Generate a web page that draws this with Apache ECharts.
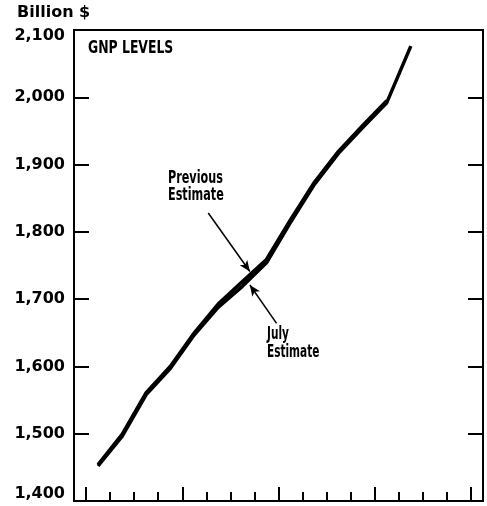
<!DOCTYPE html>
<html>
<head>
<meta charset="utf-8">
<script src="https://cdn.jsdelivr.net/npm/echarts@6/dist/echarts.min.js"></script>
<style>
html, body { margin: 0; padding: 0; background: #fff; }
#chart { width: 487px; height: 506px; }
</style>
</head>
<body>
<div id="chart"></div>
<script>
// bottom axis: one tick per quarter, no labels on the original
var quarters = ['I', 'II', 'III', 'IV', 'I', 'II', 'III', 'IV', 'I', 'II', 'III', 'IV', 'I', 'II', 'III', 'IV', 'I'];
// where each quarterly point sits, counted in quarters from the left edge
var pointPos = [1, 2, 3, 4, 5, 6, 7, 8, 9, 10, 11, 12, 13, 14];
var julyEstimate = [1452, 1496, 1558, 1597, 1647, 1688, 1719, 1754, 1814, 1871, 1917, 1955, 1992, 2076];
var previousEstimate = [1454, 1499, 1561, 1600, 1650, 1693, 1726, 1759, 1818, 1874, 1920, 1958, 1995];
var yMin = 1400, yMax = 2100, yStep = 100;

// arrows from the labels to the two lines (data coords)
var prevArrow = [[5.58, 1828], [7.31, 1741]];
var julyArrow = [[8.42, 1664], [7.31, 1721]];

var black = '#000';
var labelFont = 'DejaVu Sans';

function toPairs(pos, vals) {
    var out = [];
    for (let i = 0; i < vals.length; i++) {
        out.push([pos[i], vals[i]]);
    }
    return out;
}

function arrowLine(a) {
    return [{ coord: a[0] }, { coord: a[1] }];
}

// ticks drawn, labels kept invisible
function tickAxis(every, len, showLine) {
    return {
        type: 'category',
        data: quarters,
        position: 'bottom',
        boundaryGap: true,
        axisLine: { show: showLine, onZero: false, lineStyle: { color: black, width: 2 } },
        axisTick: { show: true, inside: true, alignWithLabel: true, interval: every, length: len, lineStyle: { color: black, width: 2 } },
        axisLabel: { show: true, interval: 0, color: 'rgba(0,0,0,0)', fontSize: 6 },
        splitLine: { show: false }
    };
}

var myChart = echarts.init(document.getElementById('chart'));

var option = {
    animation: false,
    grid: {
        left: 74, right: 4, top: 30, bottom: 5,
        outerBoundsMode: 'none',
        containLabel: false,
        show: true, borderColor: black, borderWidth: 2
    },
    xAxis: [
        tickAxis(0, 9, true),
        tickAxis(3, 14, false),
        {
            type: 'value',
            position: 'top',
            min: 0,
            max: quarters.length,
            show: false
        }
    ],
    yAxis: [{
            type: 'value',
            position: 'left',
            min: yMin, max: yMax, interval: yStep,
            axisLine: { show: true, onZero: false, lineStyle: { color: black, width: 2 } },
            axisTick: { show: true, inside: true, length: 15, lineStyle: { color: black, width: 2 } },
            splitLine: { show: false },
            axisLabel: {
                margin: 9,
                color: black,
                fontFamily: labelFont,
                fontWeight: 'bold',
                fontSize: 16,
                formatter: function(v) {
                    var s = v.toLocaleString('en-US');
                    if (v === yMax) return '{top|' + s + '}';
                    if (v === yMin) return '{bot|' + s + '}';
                    return s;
                },
                rich: {
                    top: { fontFamily: labelFont, fontWeight: 'bold', fontSize: 16, color: black, padding: [12, 0, 0, 0] },
                    bot: { fontFamily: labelFont, fontWeight: 'bold', fontSize: 16, color: black, padding: [0, 0, 14, 0] }
                }
            }
        },
        {
            type: 'value',
            position: 'right',
            min: yMin, max: yMax, interval: yStep,
            axisLine: { show: true, onZero: false, lineStyle: { color: black, width: 2 } },
            axisTick: { show: true, inside: true, length: 15, lineStyle: { color: black, width: 2 } },
            splitLine: { show: false },
            axisLabel: { show: false }
        }
    ],
    series: [{
            name: 'Previous Estimate',
            type: 'line',
            xAxisIndex: 2,
            yAxisIndex: 0,
            data: toPairs(pointPos, previousEstimate),
            symbol: 'none',
            lineStyle: { color: black, width: 3.5 },
            markLine: {
                silent: true,
                symbol: ['none', 'arrow'],
                symbolSize: [7, 11],
                label: { show: false },
                lineStyle: { color: black, width: 1.5, type: 'solid' },
                data: [arrowLine(prevArrow), arrowLine(julyArrow)]
            }
        },
        {
            name: 'July Estimate',
            type: 'line',
            xAxisIndex: 2,
            yAxisIndex: 0,
            data: toPairs(pointPos, julyEstimate),
            symbol: 'none',
            lineStyle: { color: black, width: 3.5 }
        }
    ],
    graphic: [{
            type: 'text', x: 17, y: 5,
            style: { text: 'Billion $', fontFamily: labelFont, fontWeight: 'bold', fontSize: 16, fill: black }
        },
        {
            type: 'text', x: 88, y: 40, scaleX: 0.73,
            style: { text: 'GNP LEVELS', fontFamily: labelFont, fontWeight: 'bold', fontSize: 17, fill: black }
        },
        {
            type: 'text', x: 168, y: 170, scaleX: 0.66,
            style: { text: 'Previous\nEstimate', fontFamily: labelFont, fontWeight: 'bold', fontSize: 17, lineHeight: 17, fill: black }
        },
        {
            type: 'text', x: 267, y: 326, scaleX: 0.62,
            style: { text: 'July\nEstimate', fontFamily: labelFont, fontWeight: 'bold', fontSize: 17, lineHeight: 18, fill: black }
        }
    ]
};

myChart.setOption(option);
</script>
</body>
</html>
